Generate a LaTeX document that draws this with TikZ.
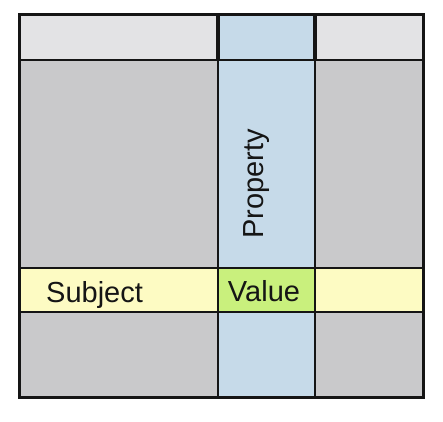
\documentclass[tikz,border=0pt]{standalone}
\usepackage{fontspec}
\setmainfont{Liberation Sans}
\definecolor{hdr}{HTML}{E3E3E5}
\definecolor{body}{HTML}{C9C9CB}
\definecolor{prop}{HTML}{C6DAE9}
\definecolor{subj}{HTML}{FDFBC3}
\definecolor{val}{HTML}{C9F07D}
\definecolor{ink}{HTML}{151515}
\begin{document}
\begin{tikzpicture}[x=1pt,y=-1pt,
  grid/.style={draw=ink,line width=2pt},
  lbl/.style={inner sep=0pt,font=\fontsize{29}{32}\selectfont,text=ink}]
\useasboundingbox (0,0) rectangle (443,421);
% fills
\fill[hdr] (19,14) rectangle (423,60);
\fill[body] (19,60) rectangle (423,397);
\fill[prop] (218,14) rectangle (315,397);
\fill[subj] (19,268) rectangle (423,312);
\fill[val] (218,268) rectangle (315,312);
% grid lines
\draw[grid] (19,60) -- (423,60);
\draw[grid] (19,268) -- (423,268);
\draw[grid] (19,312) -- (423,312);
\draw[grid] (218,14) -- (218,397);
\draw[grid] (315,14) -- (315,397);
\draw[draw=ink,line width=3.5pt] (218,14) -- (218,60);
\draw[draw=ink,line width=3.5pt] (315,14) -- (315,60);
\draw[draw=ink,line width=3pt] (19,14) rectangle (423,397);
% labels
\node[lbl,anchor=base west] (subject) at (46,302) {Subject};
\node[lbl,anchor=base] (value) at (264,301) {Value};
\node[lbl,rotate=90,anchor=base] (property) at (263,184) {Property};
\end{tikzpicture}
\end{document}
